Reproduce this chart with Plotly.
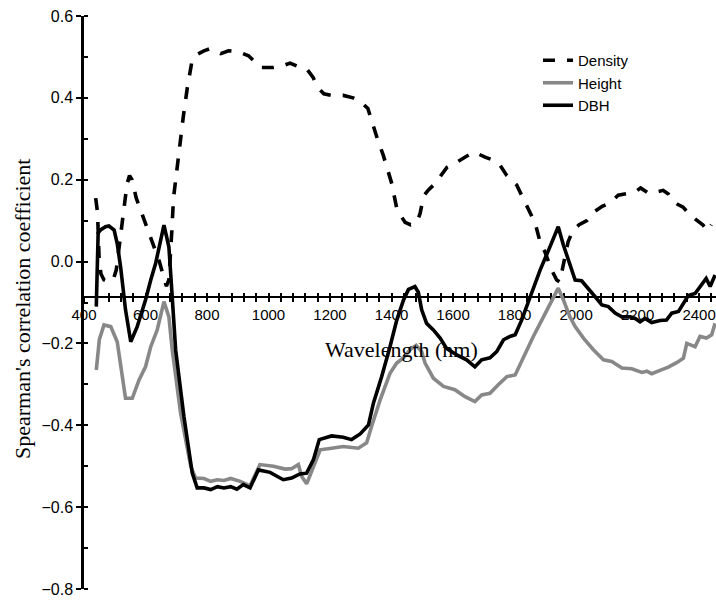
import plotly.graph_objects as go

# Spearman correlation between canopy reflectance and stand attributes
wl_density = [438, 444, 449, 455, 465, 480, 495, 505, 515, 522, 530, 540, 548, 556, 570, 585,
              600, 615, 630, 645, 660, 668, 676, 682, 686, 691, 701, 712, 723, 736, 750, 765,
              790, 810, 830, 845, 870, 900, 935, 960, 975, 1015, 1045, 1070, 1100, 1125, 1145,
              1160, 1180, 1205, 1243, 1275, 1298, 1323, 1341, 1354, 1373, 1386, 1401, 1408,
              1418, 1444, 1462, 1482, 1493, 1504, 1520, 1541, 1560, 1580, 1612, 1640, 1666,
              1685, 1704, 1730, 1753, 1775, 1790, 1807, 1823, 1850, 1867, 1883, 1899, 1921,
              1937, 1947, 1955, 1964, 1974, 1990, 2010, 2035, 2056, 2085, 2110, 2137, 2165,
              2192, 2210, 2235, 2260, 2283, 2300, 2312, 2330, 2348, 2372, 2395, 2413, 2428, 2440]
density = [0.155, 0.12, 0.01, -0.03, -0.045, -0.05, -0.045, -0.02, 0.04, 0.085, 0.14, 0.19, 0.21,
           0.2, 0.155, 0.125, 0.095, 0.06, 0.03, 0.0, -0.04, -0.06, -0.045, 0.02, 0.08, 0.155,
           0.22, 0.285, 0.355, 0.425, 0.485, 0.505, 0.515, 0.52, 0.512, 0.508, 0.515, 0.513,
           0.503, 0.485, 0.474, 0.474, 0.478, 0.485, 0.475, 0.47, 0.45, 0.425, 0.41, 0.406,
           0.406, 0.4, 0.392, 0.374, 0.328, 0.30, 0.26, 0.23, 0.19, 0.163, 0.126, 0.096, 0.09,
           0.094, 0.118, 0.16, 0.175, 0.19, 0.21, 0.23, 0.243, 0.255, 0.267, 0.262, 0.255,
           0.248, 0.235, 0.21, 0.2, 0.187, 0.162, 0.118, 0.094, 0.048, 0.023, -0.021, -0.045,
           -0.05, -0.02, 0.012, 0.048, 0.077, 0.09, 0.1, 0.12, 0.135, 0.143, 0.162, 0.165,
           0.17, 0.18, 0.167, 0.17, 0.174, 0.165, 0.15, 0.14, 0.133, 0.113, 0.1, 0.089, 0.075,
           0.09]

wl_height = [440, 450, 465, 487, 508, 519, 535, 557, 579, 600, 617, 638, 660, 676, 687, 714,
             747, 763, 790, 812, 834, 855, 877, 908, 940, 972, 1016, 1054, 1075, 1097, 1108,
             1124, 1146, 1168, 1205, 1243, 1292, 1319, 1335, 1363, 1395, 1417, 1439, 1460,
             1480, 1498, 1509, 1536, 1569, 1606, 1639, 1671, 1693, 1720, 1747, 1775, 1802,
             1829, 1861, 1894, 1921, 1942, 1959, 1980, 1997, 2024, 2057, 2089, 2116, 2149,
             2181, 2214, 2230, 2246, 2273, 2300, 2327, 2349, 2360, 2387, 2403, 2424, 2441, 2452]
height = [-0.265, -0.19, -0.155, -0.159, -0.196, -0.257, -0.334, -0.334, -0.289, -0.257,
          -0.208, -0.167, -0.098, -0.135, -0.216, -0.37, -0.5, -0.529, -0.53, -0.537, -0.533,
          -0.535, -0.53, -0.537, -0.548, -0.496, -0.5, -0.507, -0.506, -0.496, -0.525, -0.543,
          -0.504, -0.46, -0.456, -0.452, -0.456, -0.443, -0.403, -0.338, -0.273, -0.248,
          -0.235, -0.215, -0.205, -0.22, -0.248, -0.285, -0.305, -0.313, -0.33, -0.342,
          -0.326, -0.322, -0.301, -0.281, -0.277, -0.232, -0.183, -0.135, -0.094, -0.065,
          -0.094, -0.135, -0.159, -0.187, -0.216, -0.24, -0.244, -0.26, -0.262, -0.271,
          -0.268, -0.274, -0.266, -0.258, -0.247, -0.236, -0.2, -0.208, -0.183, -0.187,
          -0.179, -0.151]

wl_dbh = [440, 446, 455, 470, 481, 498, 508, 519, 535, 552, 573, 600, 617, 633, 660, 676, 684,
          698, 725, 752, 768, 790, 812, 834, 855, 877, 897, 918, 940, 967, 1005, 1048, 1075,
          1102, 1124, 1146, 1165, 1205, 1243, 1270, 1298, 1325, 1341, 1368, 1395, 1417, 1439,
          1455, 1476, 1487, 1498, 1514, 1536, 1558, 1579, 1612, 1644, 1671, 1693, 1720, 1742,
          1764, 1785, 1802, 1823, 1850, 1883, 1915, 1942, 1959, 1980, 1997, 2018, 2040, 2062,
          2084, 2105, 2127, 2149, 2176, 2192, 2208, 2224, 2246, 2273, 2294, 2311, 2333, 2349,
          2365, 2387, 2403, 2423, 2436, 2452]
dbh = [-0.11, 0.07, 0.078, 0.085, 0.087, 0.077, 0.044, -0.013, -0.118, -0.196, -0.159, -0.094,
       -0.045, -0.004, 0.089, 0.036, -0.053, -0.216, -0.379, -0.517, -0.553, -0.553, -0.557,
       -0.55, -0.553, -0.55, -0.556, -0.545, -0.553, -0.509, -0.515, -0.533, -0.529, -0.519,
       -0.517, -0.484, -0.435, -0.426, -0.429, -0.435, -0.421, -0.399, -0.346, -0.281, -0.208,
       -0.143, -0.094, -0.068, -0.061, -0.075, -0.118, -0.151, -0.167, -0.187, -0.212, -0.228,
       -0.24, -0.257, -0.24, -0.235, -0.22, -0.191, -0.183, -0.179, -0.143, -0.086, -0.021,
       0.036, 0.085, 0.04, -0.01, -0.045, -0.047, -0.065, -0.086, -0.106, -0.11, -0.126,
       -0.135, -0.135, -0.139, -0.147, -0.139, -0.149, -0.144, -0.143, -0.126, -0.122, -0.102,
       -0.083, -0.078, -0.061, -0.041, -0.061, -0.033]

x_range = [400, 2455]
y_range = [-0.8, 0.6]
x_axis_crossing = -0.086   # the wavelength axis crosses the y axis here

W, H = 716, 600
ML, MR, MT, MB = 84, 0, 16, 11
PW, PH = W - ML - MR, H - MT - MB


def px_to_paper(px, py):
    return (px - ML) / PW, 1 - (py - MT) / PH


sans = "Arial, Liberation Sans, sans-serif"
serif = "Times New Roman, Liberation Serif, serif"

fig = go.Figure()
fig.add_trace(go.Scatter(x=wl_density, y=density, name="Density", mode="lines",
                         line=dict(color="black", width=3.6, dash="12px,12px")))
fig.add_trace(go.Scatter(x=wl_height, y=height, name="Height", mode="lines",
                         line=dict(color="#888888", width=3.6)))
fig.add_trace(go.Scatter(x=wl_dbh, y=dbh, name="DBH", mode="lines",
                         line=dict(color="black", width=3.6)))

axis_pos = (x_axis_crossing - y_range[0]) / (y_range[1] - y_range[0])

common_x = dict(range=x_range, anchor="free", position=axis_pos, showgrid=False,
                zeroline=False, tick0=400, dtick=200, tickcolor="black", tickwidth=1.5,
                ticklen=4, layer="below traces")

lx, ly = px_to_paper(538, 44)
tx, ty = px_to_paper(401, 349)
yx, yy = px_to_paper(22, 309)

fig.update_layout(
    width=W, height=H,
    margin=dict(l=ML, r=MR, t=MT, b=MB),
    paper_bgcolor="white", plot_bgcolor="white",
    showlegend=True,
    legend=dict(x=lx, y=ly, xanchor="left", yanchor="top", bgcolor="rgba(0,0,0,0)",
                font=dict(family=sans, size=15, color="black"), tracegroupgap=0),
    xaxis=dict(**common_x, showline=True, linecolor="black", linewidth=2,
               ticks="outside", showticklabels=True,
               tickfont=dict(family=sans, size=15, color="black"),
               minor=dict(dtick=40, ticks="outside", ticklen=4, tickwidth=1.5,
                          tickcolor="black")),
    xaxis2=dict(**common_x, overlaying="x", showline=False, ticks="inside",
                showticklabels=False,
                minor=dict(dtick=40, ticks="inside", ticklen=4, tickwidth=1.5,
                           tickcolor="black")),
    yaxis=dict(range=y_range, showgrid=False, zeroline=False, showline=True,
               linecolor="black", linewidth=2.5, ticks="outside", ticklen=5,
               tickwidth=1.5, tickcolor="black", dtick=0.2, tick0=0,
               tickformat=".1f", tickfont=dict(family=sans, size=16, color="black"),
               minor=dict(dtick=0.1, ticks="inside", ticklen=4, tickwidth=1.5,
                          tickcolor="black")),
    annotations=[
        dict(text="Wavelength (nm)", x=tx, y=ty, xref="paper", yref="paper",
             showarrow=False, xanchor="center", yanchor="middle",
             font=dict(family=serif, size=22, color="black")),
        dict(text="Spearman's correlation coefficient", x=yx, y=yy, xref="paper",
             yref="paper", showarrow=False, textangle=-90, xanchor="center",
             yanchor="middle", font=dict(family=serif, size=22, color="black")),
    ],
)

# an empty trace so the overlaid tick axis is drawn
fig.add_trace(go.Scatter(x=[], y=[], xaxis="x2", showlegend=False, hoverinfo="skip"))

fig.write_html("out.html")
